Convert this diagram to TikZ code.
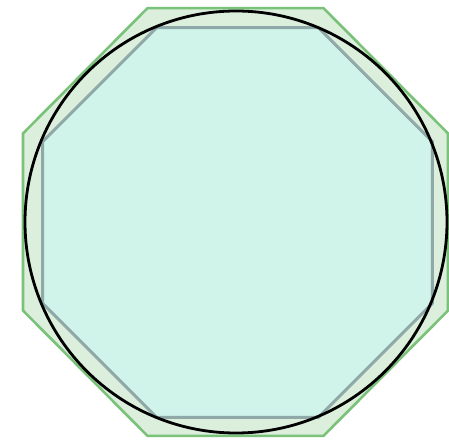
\documentclass[tikz,border=0pt]{standalone}
\usepackage{tikz}
\definecolor{outerfill}{HTML}{DCEFDC}
\definecolor{outerline}{HTML}{7AC27A}
\definecolor{innerfill}{HTML}{D0F3EA}
\definecolor{innerline}{HTML}{8FA9A9}
\tikzset{
  outeroct/.style={fill=outerfill, draw=outerline, line width=2.6pt, line join=miter},
  inneroct/.style={fill=innerfill, draw=innerline, line width=3pt, line join=miter},
  circ/.style={draw=black, line width=2.8pt}
}
\begin{document}
\begin{tikzpicture}[x=1pt,y=-1pt]
\useasboundingbox (0,0) rectangle (449,444);
\coordinate (c) at (236,222);
% circumscribed octagon
\draw[outeroct] plot[samples=8, domain=22.5:337.5] ({235.5+230*cos(\x)},{222+231.5*sin(\x)}) -- cycle;
% inscribed octagon
\draw[inneroct] plot[samples=8, domain=22.5:337.5] ({237.5+211*cos(\x)},{222.5+211*sin(\x)}) -- cycle;
% circle
\draw[circ] (c) circle[radius=211];
\end{tikzpicture}
\end{document}
